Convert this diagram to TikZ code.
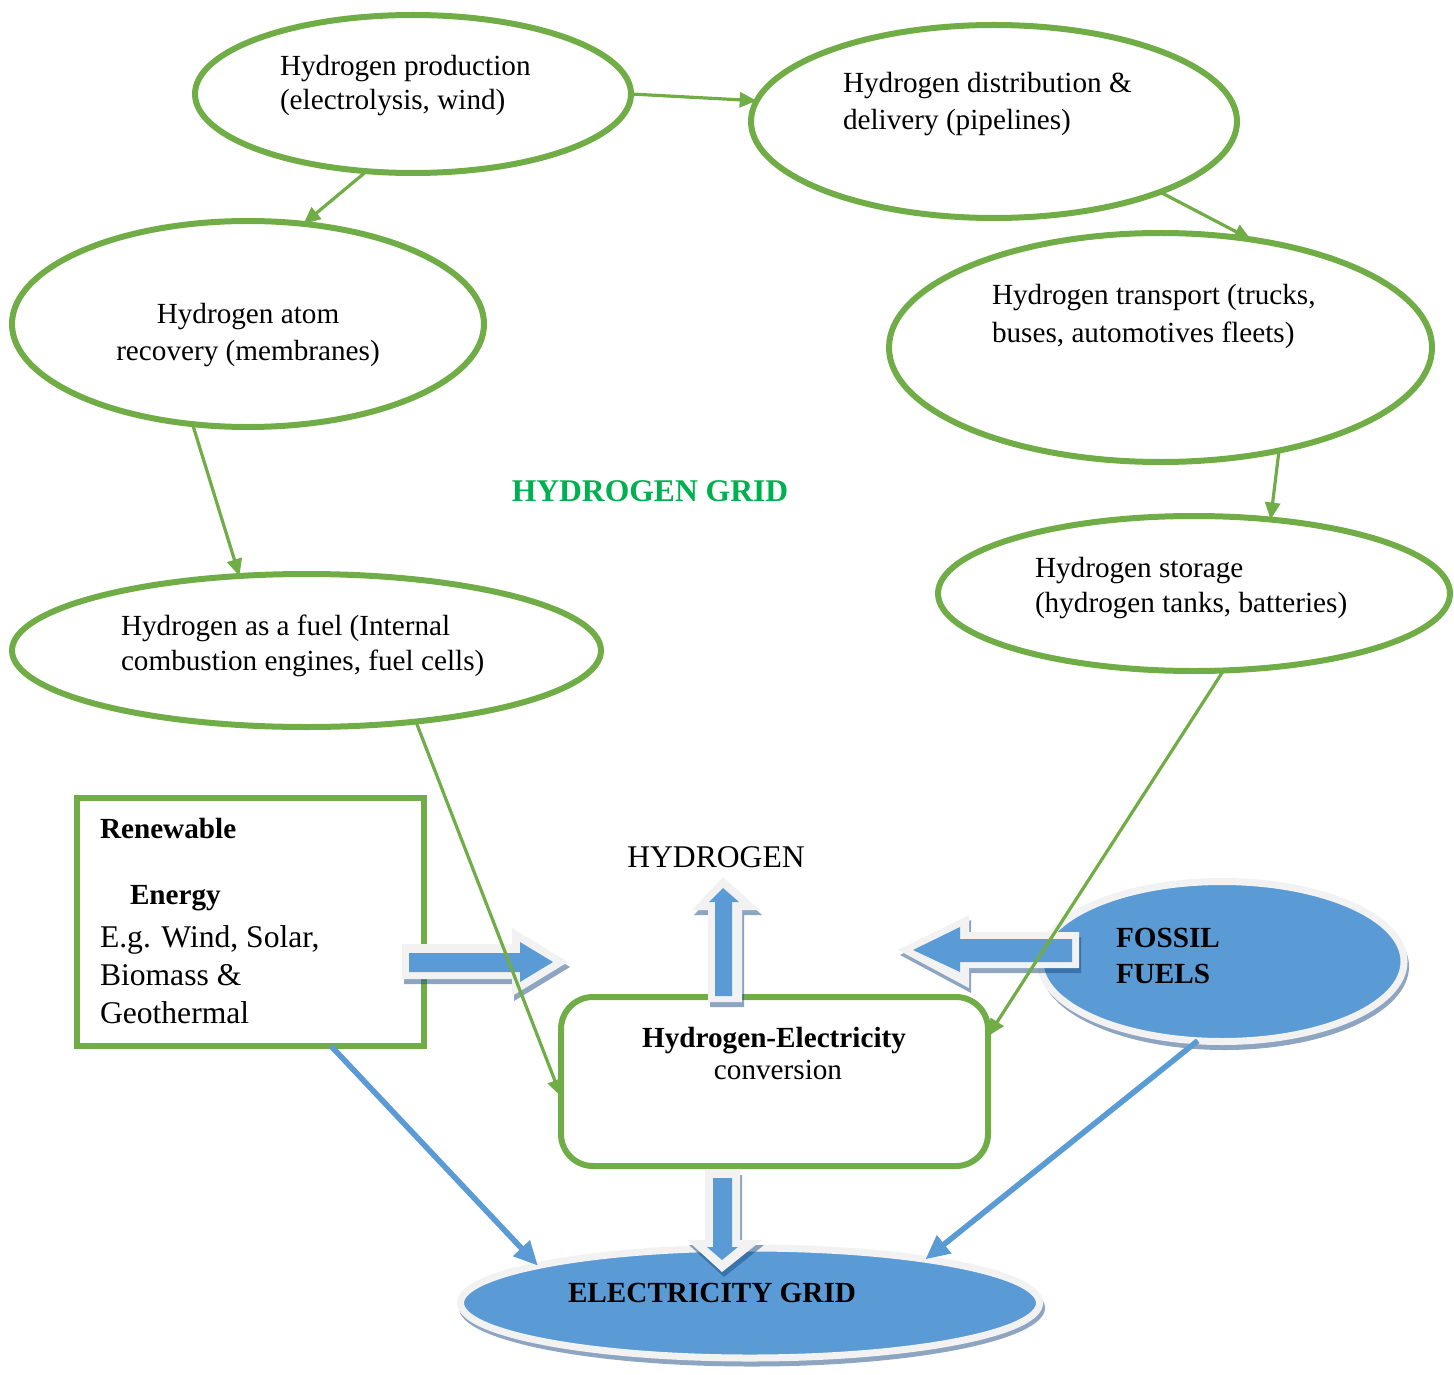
\documentclass[tikz,border=0pt]{standalone}
\usepackage{fontspec}
\setmainfont{Liberation Serif}
\usetikzlibrary{shapes.geometric,arrows.meta}
\definecolor{gr}{HTML}{70AD47}
\definecolor{bl}{HTML}{5B9BD5}
\definecolor{lg}{HTML}{F2F2F2}
\definecolor{shc}{RGB}{29,75,133}
\definecolor{tg}{HTML}{00B050}
\newcommand\fsA{\fontsize{14.6pt}{17.5pt}\selectfont}
\newcommand\fsB{\fontsize{15.8pt}{19pt}\selectfont}
\begin{document}
\begin{tikzpicture}[x=0.5pt,y=-0.5pt,
  gell/.style 2 args={ellipse,draw=gr,line width=3pt,inner sep=0pt,outer sep=0pt,minimum width=#1pt,minimum height=#2pt},
  bell/.style 2 args={ellipse,draw=lg,fill=bl,line width=3.5pt,inner sep=0pt,outer sep=0pt,minimum width=#1pt,minimum height=#2pt},
  gbox/.style={rectangle,draw=gr,line width=3pt,inner sep=0pt,outer sep=0pt},
  txt/.style={inner sep=0pt,outer sep=0pt,anchor=base west,font=\fsA},
  ctxt/.style={inner sep=0pt,outer sep=0pt,anchor=base,font=\fsA},
  garr/.style={draw=gr,line width=1.6pt,-{Triangle[length=8.5pt,width=7.5pt]}},
  barr/.style={draw=bl,line width=2.8pt,-{Triangle[length=12pt,width=11pt]}},
  shad/.style={fill=shc,opacity=0.5,shift={(2,5)}},
  bout/.style={fill=lg},
  binn/.style={fill=bl}
]
\useasboundingbox (0,0) rectangle (1454,1374);

% green ellipses
\node[gell={218}{79}] (prod) at (413,94) {};
\node[gell={243}{96.5}] (dist) at (994,121.5) {};
\node[gell={236}{103}] (atom) at (248,324) {};
\node[gell={271.5}{114.5}] (trans) at (1160.5,347.5) {};
\node[gell={256}{77.5}] (stor) at (1194,593.5) {};
\node[gell={294.5}{76.5}] (fuel) at (306.5,650.5) {};

% texts in ellipses
\node[txt] (prodA) at (280,76) {Hydrogen production};
\node[txt] (prodB) at (280,110) {(electrolysis, wind)};
\node[txt] (distA) at (843,93) {Hydrogen distribution \&};
\node[txt] (distB) at (843,130) {delivery (pipelines)};
\node[ctxt] (atomA) at (248,323) {Hydrogen atom};
\node[ctxt] (atomB) at (248,360) {recovery (membranes)};
\node[txt] (transA) at (992,305) {Hydrogen transport (trucks,};
\node[txt] (transB) at (992,343) {buses, automotives fleets)};
\node[txt] (storA) at (1035,577) {Hydrogen storage};
\node[txt] (storB) at (1035,612) {(hydrogen tanks, batteries)};
\node[txt] (fuelA) at (121,635) {Hydrogen as a fuel (Internal};
\node[txt] (fuelB) at (121,670) {combustion engines, fuel cells)};

\node[ctxt,font=\fsB\bfseries,text=tg] (hgrid) at (650,501) {HYDROGEN GRID};

% renewable box
\node[gbox,minimum width=173.5pt,minimum height=124pt] (ren) at (250.5,922) {};
\node[txt,font=\fsA\bfseries] (renA) at (100,838) {Renewable};
\node[txt,font=\fsA\bfseries] (renB) at (130,904) {Energy};
\node[txt,font=\fsB] (renC) at (100,947) {E.g. Wind, Solar,};
\node[txt,font=\fsB] (renD) at (100,985) {Biomass \&};
\node[txt,font=\fsB] (renE) at (100,1023) {Geothermal};

% conversion box
\node[gbox,rounded corners=16pt,minimum width=213.5pt,minimum height=84.5pt] (conv) at (774.5,1081.5) {};
\node[ctxt,font=\fsA\bfseries] (convA) at (774,1047) {Hydrogen-Electricity};
\node[ctxt] (convB) at (778,1079) {conversion};

\node[ctxt,font=\fsB] (hyd) at (716,867) {HYDROGEN};

% fossil fuels
\fill[shc,opacity=0.5] (1224.5,966.5) ellipse [x radius=92.25pt, y radius=41.75pt];
\node[bell={182}{80}] (fossil) at (1222,961.5) {};
\node[txt,font=\fsA\bfseries] (fosA) at (1116,947) {FOSSIL};
\node[txt,font=\fsA\bfseries] (fosB) at (1116,983) {FUELS};

% electricity grid
\fill[shc,opacity=0.5] (752,1308) ellipse [x radius=146.5pt, y radius=29.25pt];
\node[bell={289.5}{55}] (grid) at (750,1303) {};

% block arrows
% right
\fill[shad] (402,944) -- (512,944) -- (512,928) -- (568,962) -- (512,996) -- (512,979) -- (402,979) -- cycle;
\fill[bout] (402,944) -- (512,944) -- (512,928) -- (568,962) -- (512,996) -- (512,979) -- (402,979) -- cycle;
\fill[binn] (409,953) -- (520,953) -- (520,942) -- (553,962) -- (520,982) -- (520,972) -- (409,972) -- cycle;
% up
\fill[shad] (708,1002) -- (708,910) -- (692,910) -- (723,877) -- (760,910) -- (742,910) -- (742,1002) -- cycle;
\fill[bout] (708,1002) -- (708,910) -- (692,910) -- (723,877) -- (760,910) -- (742,910) -- (742,1002) -- cycle;
\fill[binn] (715,996) -- (715,902) -- (709,902) -- (723,888) -- (739,902) -- (732,902) -- (732,996) -- cycle;
% left
\fill[shad] (1079,932) -- (969,932) -- (969,915) -- (898,950) -- (969,988) -- (969,968) -- (1079,968) -- cycle;
\fill[bout] (1079,932) -- (969,932) -- (969,915) -- (898,950) -- (969,988) -- (969,968) -- (1079,968) -- cycle;
\fill[binn] (1072,939) -- (960,939) -- (960,927) -- (913,950) -- (960,972) -- (960,962) -- (1072,962) -- cycle;
% down
\fill[shad] (705,1170) -- (740,1170) -- (740,1240) -- (762,1240) -- (722,1272) -- (687,1240) -- (705,1240) -- cycle;
\fill[bout] (705,1170) -- (740,1170) -- (740,1240) -- (762,1240) -- (722,1272) -- (687,1240) -- (705,1240) -- cycle;
\fill[binn] (713,1178) -- (732,1178) -- (732,1247) -- (738,1247) -- (722,1260) -- (707,1247) -- (713,1247) -- cycle;

\node[ctxt,font=\fsA\bfseries] (gridT) at (712,1302) {ELECTRICITY GRID};

% green connectors
\draw[garr] (prod.-0.5) -- (dist.175.9);
\draw[garr] (prod.239.3) -- (atom.61);
\draw[garr] (dist.-23.3) -- (trans.50.1);
\draw[garr] (atom.241.9) -- (fuel.132.4);
\draw[garr] (trans.-41) -- (stor.44.4);
\draw[garr] (fuel.-33.7) -- (conv.184.4);
\draw[garr] (stor.-69.3) -- (conv.12.7);

% blue connectors
\draw[barr] (ren.-57.3) -- (grid.170.1);
\draw[barr] (fossil.253.1) -- (grid.14.6);
\end{tikzpicture}
\end{document}
